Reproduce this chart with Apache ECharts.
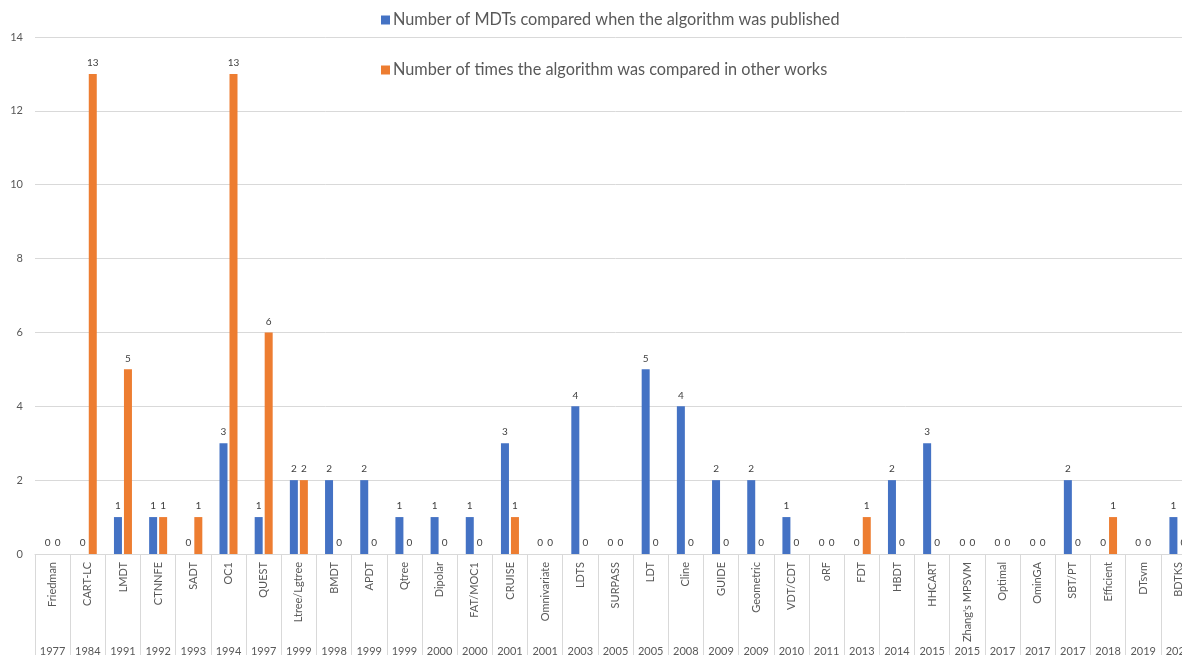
<!DOCTYPE html>
<html>
<head>
<meta charset="utf-8">
<script src="https://cdn.jsdelivr.net/npm/echarts@6/dist/echarts.min.js"></script>
<style>
  html, body { margin: 0; padding: 0; overflow: hidden; background: #fff; }
  #chart { width: 1200px; height: 655px; }
</style>
</head>
<body>
<div id="chart"></div>
<script>
// Multivariate decision tree algorithms, in order of publication
const algorithms = ['Friedman', 'CART-LC', 'LMDT', 'CTNNFE', 'SADT', 'OC1', 'QUEST', 'Ltree/Lgtree',
  'BMDT', 'APDT', 'Qtree', 'Dipolar', 'FAT/MOC1', 'CRUISE', 'Omnivariate', 'LDTS', 'SURPASS', 'LDT',
  'Cline', 'GUIDE', 'Geometric', 'VDT/CDT', 'oRF', 'FDT', 'HBDT', 'HHCART', "Zhang's MPSVM", 'Optimal',
  'OminGA', 'SBT/PT', 'Efficient', 'DTsvm', 'BDTKS'];
const years = ['1977', '1984', '1991', '1992', '1993', '1994', '1997', '1999', '1998', '1999', '1999',
  '2000', '2000', '2001', '2001', '2003', '2005', '2005', '2008', '2009', '2009', '2010', '2011', '2013',
  '2014', '2015', '2015', '2017', '2017', '2017', '2018', '2019', '2020'];
const comparedAtPublication = [0, 0, 1, 1, 0, 3, 1, 2, 2, 2, 1, 1, 1, 3, 0, 4, 0, 5, 4, 2, 2, 1, 0, 0,
  2, 3, 0, 0, 0, 2, 0, 0, 1];
const comparedInOtherWorks = [0, 13, 5, 1, 1, 13, 6, 2, 0, 0, 0, 0, 0, 1, 0, 0, 0, 0, 0, 0, 0, 0, 0, 1,
  0, 0, 0, 0, 0, 0, 1, 0, 0];
const yTicks = [0, 2, 4, 6, 8, 10, 12, 14];

const FONT = 'Lato';
const TEXT = '#595959';
const GRID_LINE = '#d9d9d9';

const chart = echarts.init(document.getElementById('chart'), null, { renderer: 'canvas' });

const barLabel = {
  show: true,
  position: 'top',
  distance: 6,
  color: '#404040',
  fontFamily: FONT,
  fontSize: 10
};

chart.setOption({
  backgroundColor: '#ffffff',
  animation: false,
  textStyle: { fontFamily: FONT },
  legend: {
    orient: 'vertical',
    left: 376,
    top: 7,
    itemWidth: 9,
    itemHeight: 9,
    itemGap: 34,
    icon: 'rect',
    textStyle: { color: TEXT, fontSize: 16.3, fontFamily: FONT, padding: [0, 0, 0, -2] }
  },
  grid: {
    left: 35, top: 37, width: 1161, height: 517,
    containLabel: false,
    outerBoundsMode: 'none'
  },
  xAxis: [
    {
      type: 'category',
      data: algorithms,
      position: 'bottom',
      axisLine: { lineStyle: { color: GRID_LINE, width: 1 } },
      axisTick: { show: true, length: 105, lineStyle: { color: GRID_LINE } },
      axisLabel: {
        rotate: 90,
        interval: 0,
        margin: 8,
        color: TEXT,
        fontSize: 11,
        fontFamily: FONT
      }
    },
    {
      type: 'category',
      data: years,
      position: 'bottom',
      axisLine: { show: false },
      axisTick: { show: false },
      axisLabel: {
        interval: 0,
        margin: 92,
        color: TEXT,
        fontSize: 11,
        fontFamily: FONT
      }
    }
  ],
  yAxis: {
    type: 'value',
    min: yTicks[0],
    max: yTicks[yTicks.length - 1],
    interval: 2,
    axisLine: { show: false },
    axisTick: { show: false },
    splitLine: { lineStyle: { color: GRID_LINE, width: 1 } },
    axisLabel: { color: TEXT, fontSize: 11, fontFamily: FONT, margin: 12 }
  },
  series: [
    {
      name: 'Number of MDTs compared when the algorithm was published',
      type: 'bar',
      data: comparedAtPublication,
      barWidth: 8,
      barGap: '25%',
      itemStyle: { color: '#4472C4' },
      label: barLabel
    },
    {
      name: 'Number of times the algorithm was compared in other works',
      type: 'bar',
      data: comparedInOtherWorks,
      barWidth: 8,
      itemStyle: { color: '#ED7D31' },
      label: barLabel
    }
  ]
});
</script>
</body>
</html>
